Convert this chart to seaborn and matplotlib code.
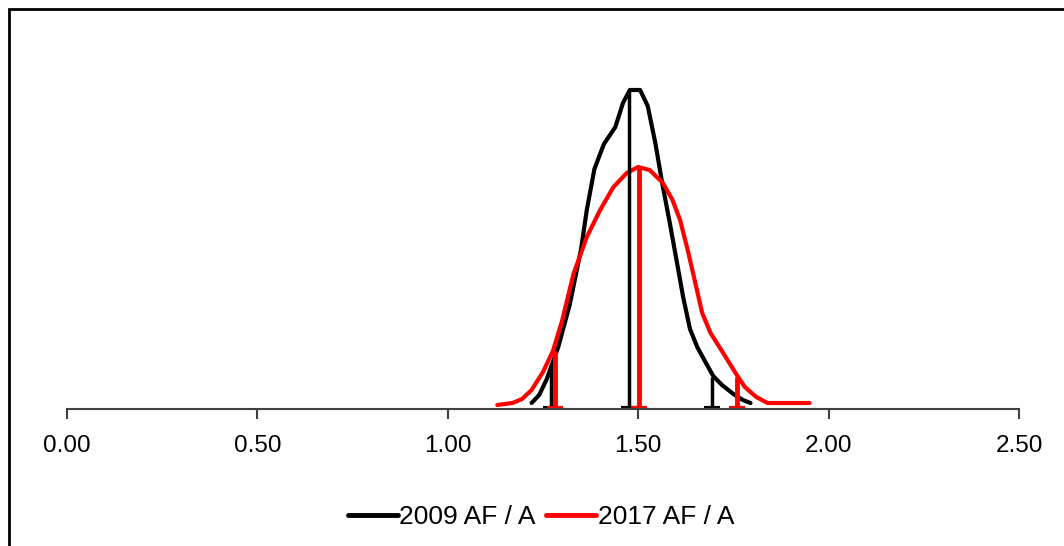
import numpy as np
import pandas as pd
import matplotlib
matplotlib.use("Agg")
import matplotlib.pyplot as plt
import seaborn as sns
from matplotlib.patches import Rectangle

# curves (x = AF / A ratio, y = relative frequency)
x_2009 = [1.22, 1.24, 1.26, 1.29, 1.32, 1.35, 1.365, 1.385, 1.41, 1.44, 1.46, 1.478,
          1.505, 1.525, 1.545, 1.563, 1.583, 1.602, 1.618, 1.636, 1.655, 1.675, 1.697,
          1.72, 1.75, 1.775, 1.795]
y_2009 = [6, 14, 30, 62, 104, 160, 199, 240, 265, 282, 306, 319,
          319, 303, 266, 226, 186, 146, 112, 80, 62, 48, 33,
          24, 15, 9, 6]

x_2017 = [1.13, 1.17, 1.195, 1.22, 1.25, 1.276, 1.30, 1.33, 1.365, 1.40, 1.435, 1.47,
          1.50, 1.53, 1.565, 1.59, 1.61, 1.63, 1.65, 1.668, 1.69, 1.723, 1.759, 1.78,
          1.81, 1.84, 1.95]
y_2017 = [4, 6, 10, 19, 37, 58, 88, 135, 172, 199, 222, 236,
          242, 239, 226, 209, 189, 159, 126, 96, 76, 56, 34, 22,
          12, 6, 6]

# percentile markers (5%, median, 95%)
q_2009 = [1.271, 1.476, 1.694]
q_2009_h = [46, 318, 32]
q_2017 = [1.282, 1.502, 1.759]
q_2017_h = [58, 242, 32]

labels = ["2009 AF / A", "2017 AF / A"]
ticks = [0.0, 0.5, 1.0, 1.5, 2.0, 2.5]

df = pd.concat([
    pd.DataFrame({"x": x_2009, "y": y_2009, "series": labels[0]}),
    pd.DataFrame({"x": x_2017, "y": y_2017, "series": labels[1]}),
])

sns.set_style("white")
plt.rcParams["font.family"] = ["Liberation Sans", "DejaVu Sans"]
plt.rcParams["text.color"] = "black"
plt.rcParams["xtick.color"] = "black"

fig = plt.figure(figsize=(10.64, 5.46), dpi=100)
ax = fig.add_axes([67 / 1064, (546 - 409) / 546, (1019 - 67) / 1064, 400 / 546])

sns.lineplot(data=df, x="x", y="y", hue="series", palette=["black", "red"],
             sort=False, lw=3, ax=ax, legend=False)

ax.vlines(q_2009, 0, q_2009_h, colors="black", lw=2.5)
ax.vlines(q_2017, 0, q_2017_h, colors="red", lw=3.5)
ax.plot(q_2009, [1] * 3, ls="none", marker="_", ms=11, mew=3, color="black")
ax.plot(q_2017, [1] * 3, ls="none", marker="_", ms=11, mew=3, color="red")

ax.set_xlim(0, 2.5)
ax.set_ylim(0, 400)
ax.set_xticks(ticks)
ax.set_xticklabels([f"{t:.2f}" for t in ticks], fontsize=17.5, color="black")
ax.set_yticks([])
ax.set_xlabel("")
ax.set_ylabel("")
for s in ["top", "right", "left"]:
    ax.spines[s].set_visible(False)
ax.spines["bottom"].set_color("#404040")
ax.spines["bottom"].set_linewidth(1.5)
ax.tick_params(axis="x", direction="out", length=7, width=1.5, color="#404040",
               pad=12, bottom=True)
ax.patch.set_alpha(0)

handles = [plt.Line2D([], [], color="black", lw=3.5),
           plt.Line2D([], [], color="red", lw=3.5)]
leg = fig.legend(handles, labels, loc="center", bbox_to_anchor=(541 / 1064, 1 - 517 / 546),
                 ncol=2, frameon=False, fontsize=19, handlelength=1.9,
                 handletextpad=0.05, columnspacing=0.4)
for t in leg.get_texts():
    t.set_color("black")

# outer chart-area frame (only left and top edges are visible)
fig.patches.append(Rectangle((9 / 1064, -0.2), 1.3, 1 - 9 / 546 + 0.2,
                             transform=fig.transFigure, fill=False,
                             edgecolor="black", lw=2))

fig.savefig("out.png", dpi=100)
